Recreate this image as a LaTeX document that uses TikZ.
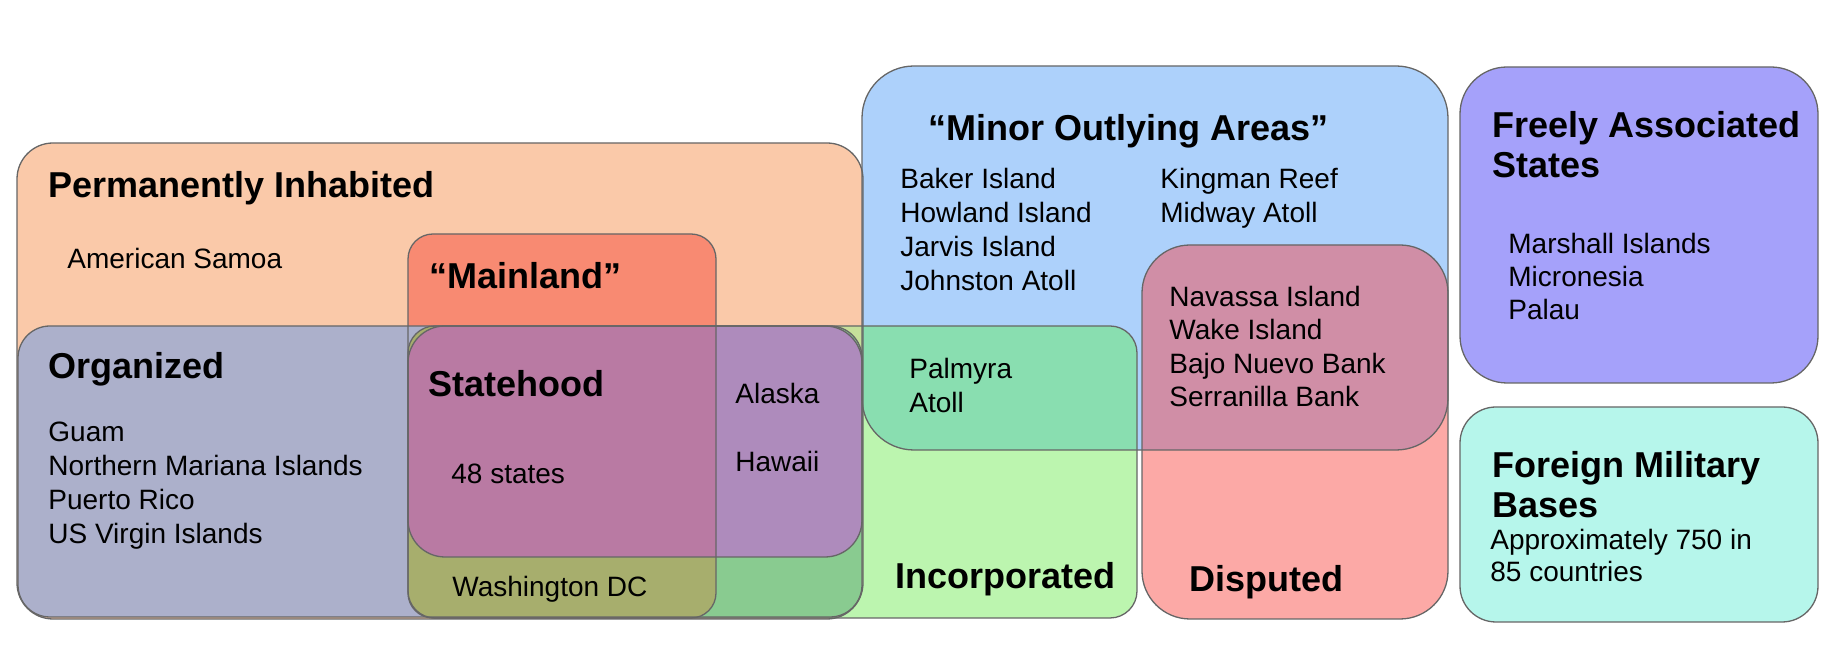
\documentclass[tikz,border=0pt]{standalone}
\usepackage{fontspec}
\setmainfont{Liberation Sans}
\definecolor{cPI}{HTML}{FAC9A9}
\definecolor{cMinor}{HTML}{ADD1FB}
\definecolor{cInc}{HTML}{BCF5AF}
\definecolor{cIncPI}{HTML}{C6E09A}
\definecolor{cPalm}{HTML}{89DEB0}
\definecolor{cMain}{HTML}{F88A72}
\definecolor{cOrg}{HTML}{ACB0CB}
\definecolor{cOrgInc}{HTML}{89CB90}
\definecolor{cOlive}{HTML}{A7AE6D}
\definecolor{cState}{HTML}{AE8BBC}
\definecolor{cStateMain}{HTML}{B97AA3}
\definecolor{cDisp}{HTML}{FCA9A6}
\definecolor{cDispMinor}{HTML}{D08EA6}
\definecolor{cFree}{HTML}{A5A1FA}
\definecolor{cFore}{HTML}{B6F6EB}
\definecolor{edgegray}{HTML}{666666}
\def\PIbox{[rounded corners=18pt] (17,143) rectangle (863,619)}
\def\Minorbox{[rounded corners=26pt] (862,66) rectangle (1448,450)}
\def\Incbox{[rounded corners=13.5pt] (408,326) rectangle (1137,618)}
\def\Mainbox{[rounded corners=12.5pt] (408,234) rectangle (716,618)}
\def\Orgbox{[rounded corners=16pt] (18,326) rectangle (862,617)}
\def\Statebox{[rounded corners=18.5pt] (408,326) rectangle (862,557)}
\def\Dispbox{[rounded corners=24pt] (1142,245) rectangle (1448,619)}
\def\Freebox{[rounded corners=23.5pt] (1460,67) rectangle (1818,383)}
\def\Forebox{[rounded corners=18pt] (1460,407) rectangle (1818,622)}
\begin{document}
\begin{tikzpicture}[x=0.5pt,y=-0.5pt,
  title/.style={anchor=base west,inner sep=0pt,yshift=-0.5pt,font=\fontsize{18pt}{20pt}\selectfont\bfseries},
  body/.style={anchor=base west,inner sep=0pt,yshift=-1pt,font=\fontsize{14pt}{16pt}\selectfont},
  edge/.style={draw=edgegray,line width=0.65pt}]
\useasboundingbox (0,0) rectangle (1828,656);
% fills
\fill[cPI] \PIbox;
\fill[cMinor] \Minorbox;
\fill[cInc] \Incbox;
\begin{scope}\clip \Incbox; \fill[cIncPI] \PIbox; \fill[cPalm] \Minorbox; \end{scope}
\fill[cMain] \Mainbox;
\fill[cOrg] \Orgbox;
\begin{scope}\clip \Orgbox; \fill[cOrgInc] \Incbox;
  \begin{scope}\clip \Incbox; \fill[cOlive] \Mainbox; \end{scope}
\end{scope}
\fill[cState] \Statebox;
\begin{scope}\clip \Statebox; \fill[cStateMain] \Mainbox; \end{scope}
\fill[cDisp] \Dispbox;
\begin{scope}\clip \Dispbox; \fill[cDispMinor] \Minorbox; \end{scope}
\fill[cFree] \Freebox;
\fill[cFore] \Forebox;
% borders
\draw[edge] \PIbox;
\draw[edge] \Minorbox;
\draw[edge] \Incbox;
\draw[edge] \Mainbox;
\draw[edge] \Orgbox;
\draw[edge] \Statebox;
\draw[edge] \Dispbox;
\draw[edge] \Freebox;
\draw[edge] \Forebox;
% texts
\node[title] (tPI) at (48,197) {Permanently Inhabited};
\node[body] (tAS) at (67,267) {American Samoa};
\node[title] (tMain) at (429,288) {“Mainland”};
\node[title] (tOrg) at (48,378) {Organized};
\node[body] (tGuam) at (48,440) {Guam};
\node[body] (tNMI) at (48,474) {Northern Mariana Islands};
\node[body] (tPR) at (48,508) {Puerto Rico};
\node[body] (tUSVI) at (48,542) {US Virgin Islands};
\node[title] (tState) at (428,396) {Statehood};
\node[body] (t48) at (451,482) {48 states};
\node[body] (tAK) at (735,402) {Alaska};
\node[body] (tHI) at (735,470) {Hawaii};
\node[body] (tDC) at (452,595) {Washington DC};
\node[title] (tInc) at (895,588) {Incorporated};
\node[title] (tDisp) at (1189,591) {Disputed};
\node[title] (tMinor) at (928,140) {“Minor Outlying Areas”};
\node[body] (tBaker) at (900,187) {Baker Island};
\node[body] (tHow) at (900,221) {Howland Island};
\node[body] (tJar) at (900,255) {Jarvis Island};
\node[body] (tJoh) at (900,289) {Johnston Atoll};
\node[body] (tKing) at (1160,187) {Kingman Reef};
\node[body] (tMid) at (1160,221) {Midway Atoll};
\node[body] (tPal1) at (909,377) {Palmyra};
\node[body] (tPal2) at (909,411) {Atoll};
\node[body] (tNav) at (1169,305) {Navassa Island};
\node[body] (tWake) at (1169,338) {Wake Island};
\node[body] (tBajo) at (1169,372) {Bajo Nuevo Bank};
\node[body] (tSerr) at (1169,405) {Serranilla Bank};
\node[title] (tFree1) at (1492,137) {Freely Associated};
\node[title] (tFree2) at (1492,177) {States};
\node[body] (tMar) at (1508,252) {Marshall Islands};
\node[body] (tMic) at (1508,285) {Micronesia};
\node[body] (tPalau) at (1508,318) {Palau};
\node[title] (tFore1) at (1492,477) {Foreign Military};
\node[title] (tFore2) at (1492,517) {Bases};
\node[body] (tApp1) at (1490,548) {Approximately 750 in};
\node[body] (tApp2) at (1490,580) {85 countries};
\end{tikzpicture}
\end{document}
